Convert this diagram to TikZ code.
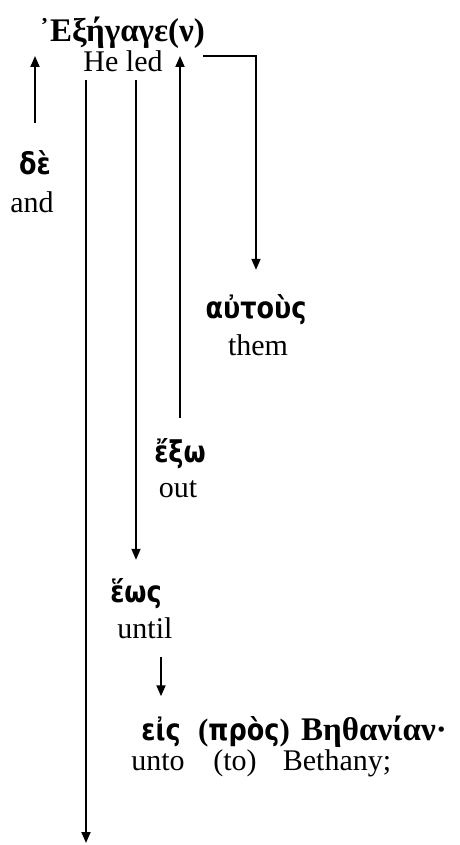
\documentclass[tikz,border=0pt]{standalone}
\usepackage{fontspec}
\setmainfont{Liberation Serif}
\newfontfamily\grk[FakeStretch=0.85]{DejaVu Sans}
\usetikzlibrary{arrows.meta}

\begin{document}
\begin{tikzpicture}[x=1pt,y=-1pt,
    gr/.style={font=\grk\bfseries\fontsize{30}{34}\selectfont, inner sep=0pt, anchor=base},
    tb/.style={font=\bfseries\fontsize{33}{38}\selectfont, inner sep=0pt, anchor=base},
    en/.style={font=\fontsize{30}{34}\selectfont, inner sep=0pt, anchor=base},
    arr/.style={line width=1.8pt, -{Triangle[length=11pt,width=9pt]}}]

    \useasboundingbox (0,0) rectangle (459,845);

    % the Greek words, with the English under each
    \node[tb] (title) at (122,42) {᾿Εξήγαγε(ν)};
    \node[en] (led) at (123,72) {He led};
    \node[gr] (de) at (35,175) {δὲ};
    \node[en] (and) at (32,212) {and};
    \node[gr] (autous) at (256,318) {αὐτοὺς};
    \node[en] (them) at (258,355) {them};
    \node[gr] (exo) at (180,462) {ἔξω};
    \node[en] (out) at (178,497) {out};
    \node[gr] (heos) at (136,602) {ἕως};
    \node[en] (until) at (145,638) {until};
    \node[gr] (eis) at (161,740) {εἰς};
    \node[gr] (pros) at (244,740) {{\normalfont\bfseries\fontsize{31}{36}\selectfont(}πρὸς{\normalfont\bfseries\fontsize{31}{36}\selectfont)}};
    \node[tb] (beth) at (374,740) {Βηθανίαν·};
    \node[en] (unto) at (158,770) {unto};
    \node[en] (to) at (235,770) {(to)};
    \node[en] (bethany) at (337,770) {Bethany;};

    \coordinate (end) at (86,843);

    % connectors
    \draw[arr, shorten <=28pt, shorten >=5pt] (de.north) -- (de.north |- led.north);
    \draw[arr, shorten <=8pt] (end |- led.south) -- (end);
    \draw[arr, shorten <=8pt, shorten >=18pt] (heos.north |- led.south) -- (heos.north);
    \draw[arr, shorten <=20pt, shorten >=5pt] (exo.north) -- (exo.north |- led.north);
    \draw[arr, shorten >=24pt] ([shift={(40pt,-5pt)}]led.north east) -| (autous.north);
    \draw[arr, shorten <=18pt, shorten >=20pt] (until.south -| eis.north) -- (eis.north);

\end{tikzpicture}
\end{document}
